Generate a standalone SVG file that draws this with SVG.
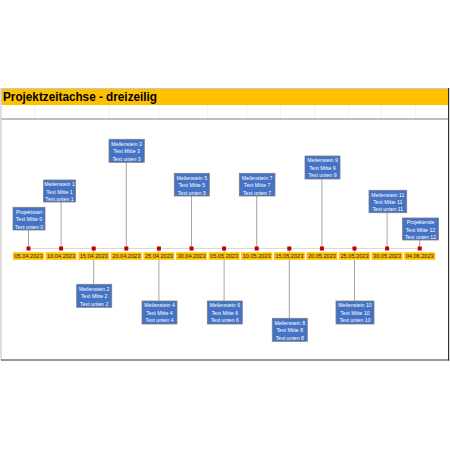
<svg xmlns="http://www.w3.org/2000/svg" width="450" height="450" viewBox="0 0 450 450">
<style>
.box{fill:#4472C4;stroke:#7F7F7F;stroke-width:0.8}
.bt{font-family:"Liberation Sans",Arial,sans-serif;font-size:5.2px;fill:#FFFFFF;text-anchor:middle}
.db{fill:#FFC000}
.dt{font-family:"Liberation Sans",Arial,sans-serif;font-size:5.6px;fill:#262626;text-anchor:middle}
.mk{fill:#C00000}
.cn{stroke:#A6A6A6;stroke-width:1;fill:none}
.grid{stroke:#EDEDED;stroke-width:0.8}
</style>
<rect x="0" y="0" width="450" height="450" fill="#FFFFFF"/>
<g id="frame">
<rect x="1.5" y="89" width="447" height="16" fill="#FFC000"/>
<g class="grid">
<line x1="34.5" y1="105" x2="34.5" y2="118"/>
<line x1="109.5" y1="105" x2="109.5" y2="118"/>
<line x1="158.5" y1="105" x2="158.5" y2="118"/>
<line x1="207.5" y1="105" x2="207.5" y2="118"/>
<line x1="246.5" y1="105" x2="246.5" y2="118"/>
<line x1="280.5" y1="105" x2="280.5" y2="118"/>
<line x1="314.5" y1="105" x2="314.5" y2="118"/>
<line x1="348.5" y1="105" x2="348.5" y2="118"/>
<line x1="381.5" y1="105" x2="381.5" y2="118"/>
<line x1="415.5" y1="105" x2="415.5" y2="118"/>
</g>
<line x1="1" y1="88.5" x2="449" y2="88.5" stroke="#C8C8C8" stroke-width="1.2"/>
<line x1="1" y1="119" x2="448" y2="119" stroke="#7F7F7F" stroke-width="1.2"/>
<line x1="1" y1="88" x2="1" y2="360" stroke="#C8C8C8" stroke-width="1.2"/>
<line x1="448.6" y1="88" x2="448.6" y2="360.6" stroke="#333333" stroke-width="1.2"/>
<line x1="1" y1="360" x2="449.2" y2="360" stroke="#333333" stroke-width="1.2"/>
<text x="3" y="100.5" font-family="'Liberation Sans',Arial,sans-serif" font-size="13" font-weight="bold" fill="#000000" textLength="154" lengthAdjust="spacingAndGlyphs">Projektzeitachse - dreizeilig</text>
</g>
<g id="connectors">
<line x1="28.5" y1="248.5" x2="419.7" y2="248.5" stroke="#D9D9D9" stroke-width="1.2"/>
<line class="cn" x1="28.5" y1="230" x2="28.5" y2="248"/>
<line class="cn" x1="61.1" y1="202" x2="61.1" y2="248"/>
<line class="cn" x1="93.7" y1="249" x2="93.7" y2="284"/>
<line class="cn" x1="126.3" y1="162" x2="126.3" y2="248"/>
<line class="cn" x1="158.9" y1="249" x2="158.9" y2="301"/>
<line class="cn" x1="191.5" y1="196" x2="191.5" y2="248"/>
<line class="cn" x1="224.1" y1="249" x2="224.1" y2="301"/>
<line class="cn" x1="256.7" y1="196" x2="256.7" y2="248"/>
<line class="cn" x1="289.3" y1="249" x2="289.3" y2="318"/>
<line class="cn" x1="321.9" y1="179" x2="321.9" y2="248"/>
<line class="cn" x1="354.5" y1="249" x2="354.5" y2="301"/>
<line class="cn" x1="387.1" y1="213" x2="387.1" y2="248"/>
<line class="cn" x1="419.7" y1="240" x2="419.7" y2="248"/>
</g>
<g id="markers">
<rect class="mk" x="26.5" y="246.5" width="4" height="4"/>
<rect class="mk" x="59.1" y="246.5" width="4" height="4"/>
<rect class="mk" x="91.7" y="246.5" width="4" height="4"/>
<rect class="mk" x="124.3" y="246.5" width="4" height="4"/>
<rect class="mk" x="156.9" y="246.5" width="4" height="4"/>
<rect class="mk" x="189.5" y="246.5" width="4" height="4"/>
<rect class="mk" x="222.1" y="246.5" width="4" height="4"/>
<rect class="mk" x="254.7" y="246.5" width="4" height="4"/>
<rect class="mk" x="287.3" y="246.5" width="4" height="4"/>
<rect class="mk" x="319.9" y="246.5" width="4" height="4"/>
<rect class="mk" x="352.5" y="246.5" width="4" height="4"/>
<rect class="mk" x="385.1" y="246.5" width="4" height="4"/>
<rect class="mk" x="417.7" y="246.5" width="4" height="4"/>
</g>
<g id="dates">
<rect class="db" x="13" y="252.3" width="31" height="7.5"/><text class="dt" x="28.5" y="258.2">05.04.2023</text>
<rect class="db" x="45.6" y="252.3" width="31" height="7.5"/><text class="dt" x="61.1" y="258.2">10.04.2023</text>
<rect class="db" x="78.2" y="252.3" width="31" height="7.5"/><text class="dt" x="93.7" y="258.2">15.04.2023</text>
<rect class="db" x="110.8" y="252.3" width="31" height="7.5"/><text class="dt" x="126.3" y="258.2">20.04.2023</text>
<rect class="db" x="143.4" y="252.3" width="31" height="7.5"/><text class="dt" x="158.9" y="258.2">25.04.2023</text>
<rect class="db" x="176" y="252.3" width="31" height="7.5"/><text class="dt" x="191.5" y="258.2">30.04.2023</text>
<rect class="db" x="208.6" y="252.3" width="31" height="7.5"/><text class="dt" x="224.1" y="258.2">05.05.2023</text>
<rect class="db" x="241.2" y="252.3" width="31" height="7.5"/><text class="dt" x="256.7" y="258.2">10.05.2023</text>
<rect class="db" x="273.8" y="252.3" width="31" height="7.5"/><text class="dt" x="289.3" y="258.2">15.05.2023</text>
<rect class="db" x="306.4" y="252.3" width="31" height="7.5"/><text class="dt" x="321.9" y="258.2">20.05.2023</text>
<rect class="db" x="339" y="252.3" width="31" height="7.5"/><text class="dt" x="354.5" y="258.2">25.05.2023</text>
<rect class="db" x="371.6" y="252.3" width="31" height="7.5"/><text class="dt" x="387.1" y="258.2">30.05.2023</text>
<rect class="db" x="404.2" y="252.3" width="31" height="7.5"/><text class="dt" x="419.7" y="258.2">04.06.2023</text>
</g>
<g id="m0"><rect class="box" x="13" y="207.3" width="32" height="22.7"/><text class="bt" x="29" y="213.6">Projektstart</text><text class="bt" x="29" y="221.2">Text Mitte 0</text><text class="bt" x="29" y="228.6">Text unten 0</text></g>
<g id="m1"><rect class="box" x="43.5" y="180" width="32" height="22"/><text class="bt" x="59.5" y="186.2">Meilenstein 1</text><text class="bt" x="59.5" y="193.6">Text Mitte 1</text><text class="bt" x="59.5" y="200.8">Text unten 1</text></g>
<g id="m2"><rect class="box" x="76.7" y="284.3" width="35" height="23"/><text class="bt" x="94.2" y="290.6">Meilenstein 2</text><text class="bt" x="94.2" y="298.2">Text Mitte 2</text><text class="bt" x="94.2" y="305.6">Text unten 2</text></g>
<g id="m3"><rect class="box" x="109" y="139.3" width="35.3" height="23"/><text class="bt" x="126.6" y="145.6">Meilenstein 3</text><text class="bt" x="126.6" y="153.2">Text Mitte 3</text><text class="bt" x="126.6" y="160.6">Text unten 3</text></g>
<g id="m4"><rect class="box" x="142" y="301" width="35" height="23"/><text class="bt" x="159.5" y="307.3">Meilenstein 4</text><text class="bt" x="159.5" y="314.9">Text Mitte 4</text><text class="bt" x="159.5" y="322.3">Text unten 4</text></g>
<g id="m5"><rect class="box" x="174.3" y="173.3" width="35" height="22.7"/><text class="bt" x="191.8" y="179.6">Meilenstein 5</text><text class="bt" x="191.8" y="187.2">Text Mitte 5</text><text class="bt" x="191.8" y="194.6">Text unten 5</text></g>
<g id="m6"><rect class="box" x="207.3" y="301" width="35" height="23"/><text class="bt" x="224.8" y="307.3">Meilenstein 6</text><text class="bt" x="224.8" y="314.9">Text Mitte 6</text><text class="bt" x="224.8" y="322.3">Text unten 6</text></g>
<g id="m7"><rect class="box" x="239.3" y="173.3" width="35.7" height="22.7"/><text class="bt" x="257.1" y="179.6">Meilenstein 7</text><text class="bt" x="257.1" y="187.2">Text Mitte 7</text><text class="bt" x="257.1" y="194.6">Text unten 7</text></g>
<g id="m8"><rect class="box" x="272.3" y="318.3" width="35" height="23"/><text class="bt" x="289.8" y="324.6">Meilenstein 8</text><text class="bt" x="289.8" y="332.2">Text Mitte 8</text><text class="bt" x="289.8" y="339.6">Text unten 8</text></g>
<g id="m9"><rect class="box" x="305" y="156" width="35" height="23"/><text class="bt" x="322.5" y="162.3">Meilenstein 9</text><text class="bt" x="322.5" y="169.9">Text Mitte 9</text><text class="bt" x="322.5" y="177.3">Text unten 9</text></g>
<g id="m10"><rect class="box" x="336" y="301" width="38" height="23"/><text class="bt" x="355" y="307.3">Meilenstein 10</text><text class="bt" x="355" y="314.9">Text Mitte 10</text><text class="bt" x="355" y="322.3">Text unten 10</text></g>
<g id="m11"><rect class="box" x="369" y="190.3" width="37.7" height="22.4"/><text class="bt" x="387.8" y="196.6">Meilenstein 11</text><text class="bt" x="387.8" y="204.2">Text Mitte 11</text><text class="bt" x="387.8" y="211.4">Text unten 11</text></g>
<g id="m12"><rect class="box" x="402.5" y="218" width="36" height="22"/><text class="bt" x="420.5" y="224.2">Projektende</text><text class="bt" x="420.5" y="231.6">Text Mitte 12</text><text class="bt" x="420.5" y="238.8">Text unten 12</text></g>
</svg>
